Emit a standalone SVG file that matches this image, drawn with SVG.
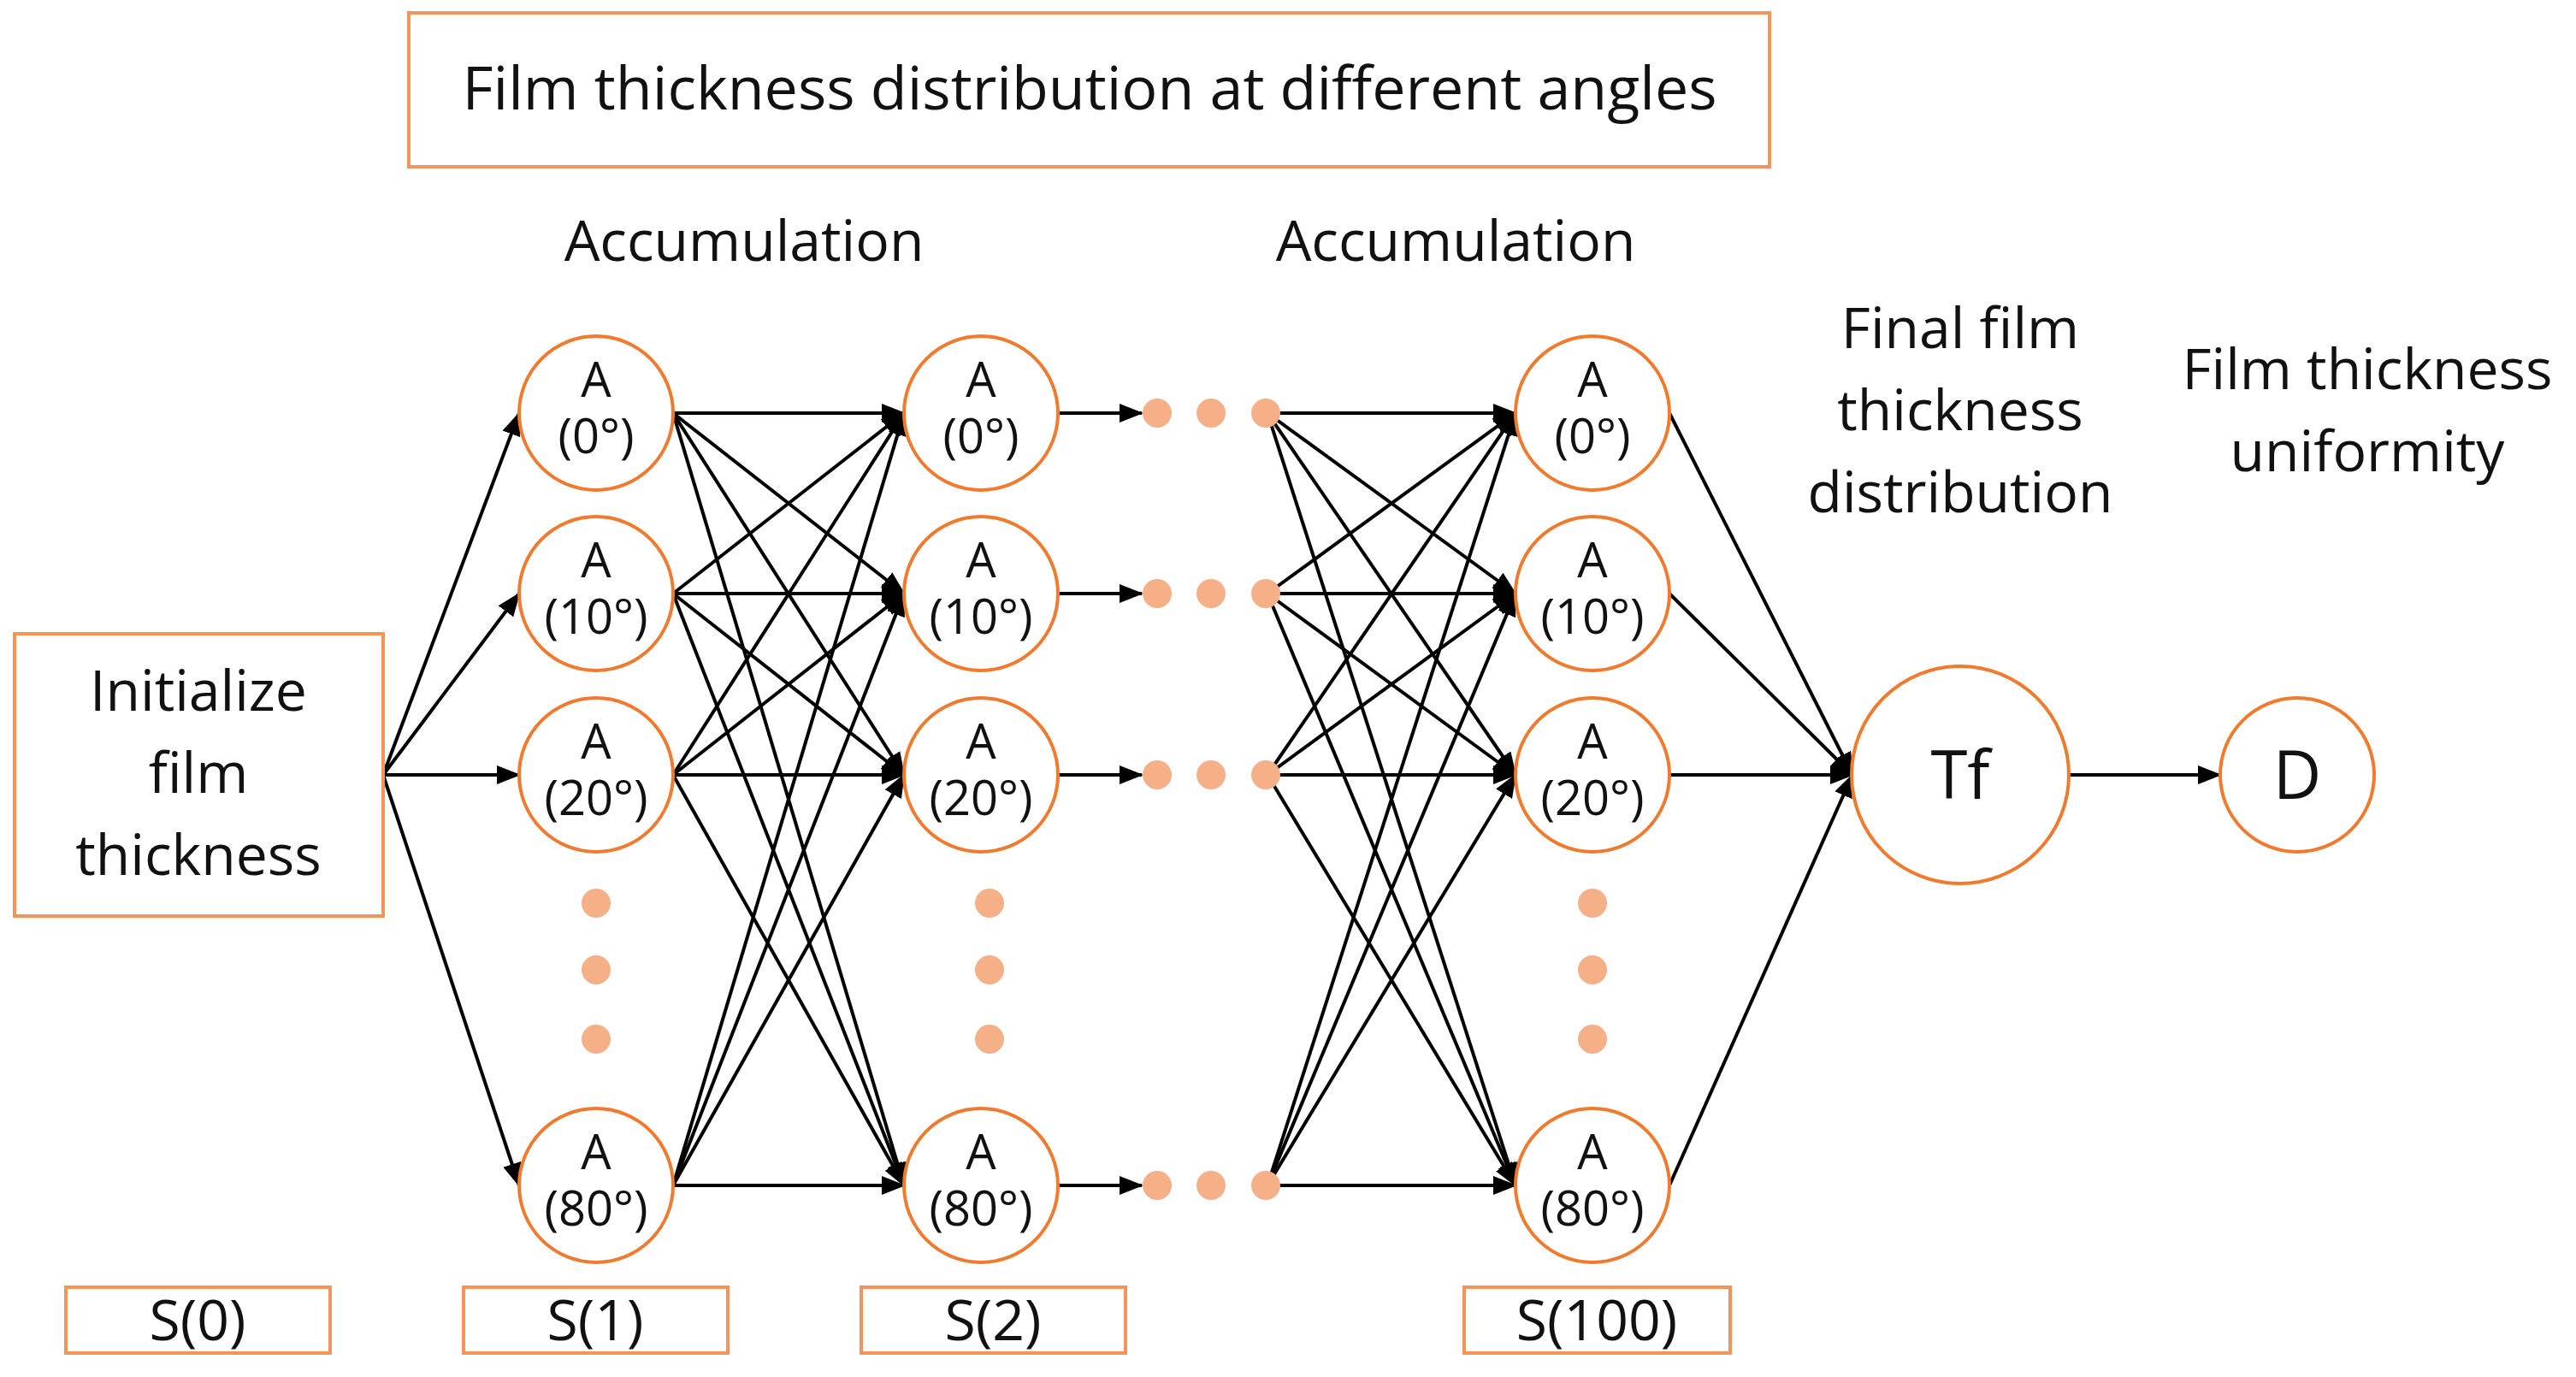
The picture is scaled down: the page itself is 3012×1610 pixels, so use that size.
<svg xmlns="http://www.w3.org/2000/svg" width="3012" height="1610" viewBox="0 0 3012 1610">
<style>
.box{fill:#fff;stroke:#F4945A;stroke-width:4}
.nd{fill:#fff;stroke:#F07A2E;stroke-width:4}
.dot{fill:#F6B088}
text{font-family:"Open Sans","Liberation Sans",sans-serif;fill:#111;text-anchor:middle}
.t{font-size:66px}
.n{font-size:56px}
.e{stroke:#000;stroke-width:4;fill:none;marker-end:url(#ah)}
</style>
<defs>
<marker id="ah" markerUnits="userSpaceOnUse" markerWidth="28" markerHeight="22" refX="26" refY="11" orient="auto"><path d="M0,0 L28,11 L0,22 Z" fill="#000"/></marker>
</defs>
<rect width="3012" height="1610" fill="#fff"/>
<g id="title"><rect class="box" x="478" y="15" width="1591" height="180"/><text x="1274" y="128" style="font-size:70px">Film thickness distribution at different angles</text></g>
<g id="labels">
<text class="t" x="870" y="305">Accumulation</text>
<text class="t" x="1702" y="305">Accumulation</text>
<text class="t" x="2292" y="407">Final film</text>
<text class="t" x="2292" y="503">thickness</text>
<text class="t" x="2292" y="599">distribution</text>
<text class="t" x="2768" y="455">Film thickness</text>
<text class="t" x="2768" y="551">uniformity</text>
</g>
<g id="edges">
<line class="e" x1="448" y1="906" x2="607" y2="483"/>
<line class="e" x1="448" y1="906" x2="607" y2="694"/>
<line class="e" x1="448" y1="906" x2="607" y2="906"/>
<line class="e" x1="448" y1="906" x2="607" y2="1386"/>
<g>
<line class="e" x1="787" y1="483" x2="1057" y2="483"/><line class="e" x1="787" y1="483" x2="1057" y2="694"/><line class="e" x1="787" y1="483" x2="1057" y2="906"/><line class="e" x1="787" y1="483" x2="1057" y2="1386"/>
<line class="e" x1="787" y1="694" x2="1057" y2="483"/><line class="e" x1="787" y1="694" x2="1057" y2="694"/><line class="e" x1="787" y1="694" x2="1057" y2="906"/><line class="e" x1="787" y1="694" x2="1057" y2="1386"/>
<line class="e" x1="787" y1="906" x2="1057" y2="483"/><line class="e" x1="787" y1="906" x2="1057" y2="694"/><line class="e" x1="787" y1="906" x2="1057" y2="906"/><line class="e" x1="787" y1="906" x2="1057" y2="1386"/>
<line class="e" x1="787" y1="1386" x2="1057" y2="483"/><line class="e" x1="787" y1="1386" x2="1057" y2="694"/><line class="e" x1="787" y1="1386" x2="1057" y2="906"/><line class="e" x1="787" y1="1386" x2="1057" y2="1386"/>
</g>
<line class="e" x1="1237" y1="483" x2="1335" y2="483"/>
<line class="e" x1="1237" y1="694" x2="1335" y2="694"/>
<line class="e" x1="1237" y1="906" x2="1335" y2="906"/>
<line class="e" x1="1237" y1="1386" x2="1335" y2="1386"/>
<g>
<line class="e" x1="1482" y1="483" x2="1772" y2="483"/><line class="e" x1="1482" y1="483" x2="1772" y2="694"/><line class="e" x1="1482" y1="483" x2="1772" y2="906"/><line class="e" x1="1482" y1="483" x2="1772" y2="1386"/>
<line class="e" x1="1482" y1="694" x2="1772" y2="483"/><line class="e" x1="1482" y1="694" x2="1772" y2="694"/><line class="e" x1="1482" y1="694" x2="1772" y2="906"/><line class="e" x1="1482" y1="694" x2="1772" y2="1386"/>
<line class="e" x1="1482" y1="906" x2="1772" y2="483"/><line class="e" x1="1482" y1="906" x2="1772" y2="694"/><line class="e" x1="1482" y1="906" x2="1772" y2="906"/><line class="e" x1="1482" y1="906" x2="1772" y2="1386"/>
<line class="e" x1="1482" y1="1386" x2="1772" y2="483"/><line class="e" x1="1482" y1="1386" x2="1772" y2="694"/><line class="e" x1="1482" y1="1386" x2="1772" y2="906"/><line class="e" x1="1482" y1="1386" x2="1772" y2="1386"/>
</g>
<line class="e" x1="1952" y1="483" x2="2166" y2="906"/>
<line class="e" x1="1952" y1="694" x2="2166" y2="906"/>
<line class="e" x1="1952" y1="906" x2="2166" y2="906"/>
<line class="e" x1="1952" y1="1386" x2="2166" y2="906"/>
<line class="e" x1="2420" y1="906" x2="2596" y2="906"/>
</g>
<g id="init"><rect class="box" x="17" y="741" width="431" height="330"/><text class="t" x="232" y="831">Initialize</text><text class="t" x="232" y="927">film</text><text class="t" x="232" y="1023">thickness</text></g>
<g id="c1">
<g id="c1n0"><circle class="nd" cx="697" cy="483" r="90"/><text class="n" x="697" y="464">A</text><text class="n" x="697" y="530">(0°)</text></g>
<g id="c1n1"><circle class="nd" cx="697" cy="694" r="90"/><text class="n" x="697" y="675">A</text><text class="n" x="697" y="741">(10°)</text></g>
<g id="c1n2"><circle class="nd" cx="697" cy="906" r="90"/><text class="n" x="697" y="887">A</text><text class="n" x="697" y="953">(20°)</text></g>
<g id="c1n8"><circle class="nd" cx="697" cy="1386" r="90"/><text class="n" x="697" y="1367">A</text><text class="n" x="697" y="1433">(80°)</text></g>
<circle class="dot" cx="697" cy="1056" r="17"/><circle class="dot" cx="697" cy="1134" r="17"/><circle class="dot" cx="697" cy="1215" r="17"/>
</g>
<g id="c2">
<g id="c2n0"><circle class="nd" cx="1147" cy="483" r="90"/><text class="n" x="1147" y="464">A</text><text class="n" x="1147" y="530">(0°)</text></g>
<g id="c2n1"><circle class="nd" cx="1147" cy="694" r="90"/><text class="n" x="1147" y="675">A</text><text class="n" x="1147" y="741">(10°)</text></g>
<g id="c2n2"><circle class="nd" cx="1147" cy="906" r="90"/><text class="n" x="1147" y="887">A</text><text class="n" x="1147" y="953">(20°)</text></g>
<g id="c2n8"><circle class="nd" cx="1147" cy="1386" r="90"/><text class="n" x="1147" y="1367">A</text><text class="n" x="1147" y="1433">(80°)</text></g>
<circle class="dot" cx="1157" cy="1056" r="17"/><circle class="dot" cx="1157" cy="1134" r="17"/><circle class="dot" cx="1157" cy="1215" r="17"/>
</g>
<g id="c3">
<g id="c3n0"><circle class="nd" cx="1862" cy="483" r="90"/><text class="n" x="1862" y="464">A</text><text class="n" x="1862" y="530">(0°)</text></g>
<g id="c3n1"><circle class="nd" cx="1862" cy="694" r="90"/><text class="n" x="1862" y="675">A</text><text class="n" x="1862" y="741">(10°)</text></g>
<g id="c3n2"><circle class="nd" cx="1862" cy="906" r="90"/><text class="n" x="1862" y="887">A</text><text class="n" x="1862" y="953">(20°)</text></g>
<g id="c3n8"><circle class="nd" cx="1862" cy="1386" r="90"/><text class="n" x="1862" y="1367">A</text><text class="n" x="1862" y="1433">(80°)</text></g>
<circle class="dot" cx="1862" cy="1056" r="17"/><circle class="dot" cx="1862" cy="1134" r="17"/><circle class="dot" cx="1862" cy="1215" r="17"/>
</g>
<g id="hdots">
<circle class="dot" cx="1353" cy="483" r="17"/><circle class="dot" cx="1416" cy="483" r="17"/><circle class="dot" cx="1480" cy="483" r="17"/>
<circle class="dot" cx="1353" cy="694" r="17"/><circle class="dot" cx="1416" cy="694" r="17"/><circle class="dot" cx="1480" cy="694" r="17"/>
<circle class="dot" cx="1353" cy="906" r="17"/><circle class="dot" cx="1416" cy="906" r="17"/><circle class="dot" cx="1480" cy="906" r="17"/>
<circle class="dot" cx="1353" cy="1386" r="17"/><circle class="dot" cx="1416" cy="1386" r="17"/><circle class="dot" cx="1480" cy="1386" r="17"/>
</g>
<g id="tf"><circle class="nd" cx="2292" cy="906" r="127"/><text x="2292" y="934" style="font-size:78px">Tf</text></g>
<g id="d"><circle class="nd" cx="2686" cy="906" r="90"/><text x="2686" y="934" style="font-size:78px">D</text></g>
<g id="s0"><rect class="box" x="77" y="1505" width="309" height="77"/><text class="t" x="231" y="1567">S(0)</text></g>
<g id="s1"><rect class="box" x="542" y="1505" width="309" height="77"/><text class="t" x="696" y="1567">S(1)</text></g>
<g id="s2"><rect class="box" x="1007" y="1505" width="309" height="77"/><text class="t" x="1161" y="1567">S(2)</text></g>
<g id="s100"><rect class="box" x="1712" y="1505" width="311" height="77"/><text class="t" x="1867" y="1567">S(100)</text></g>
</svg>
